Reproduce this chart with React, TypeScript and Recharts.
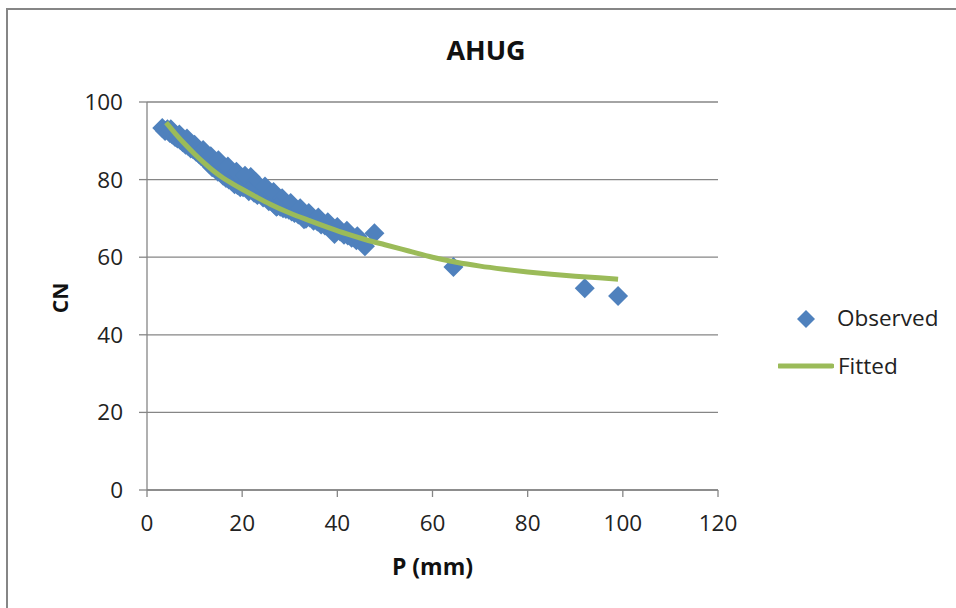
import React from 'react';
import { ScatterChart, Scatter, XAxis, YAxis, CartesianGrid } from 'recharts';

const title = 'AHUG';
const xTicks = [0, 20, 40, 60, 80, 100, 120];
const yTicks = [0, 20, 40, 60, 80, 100];

// observed P (mm) and CN
const obsP = [
  3.2, 3.8, 4.3, 4.8, 5.3, 5.9, 6.4, 7.0, 7.5, 8.1, 8.6, 9.2, 9.7, 10.3, 10.9, 11.4, 12.0, 12.6,
  13.1, 13.7, 14.3, 14.9, 15.4, 16.0, 16.6, 17.2, 17.8, 18.4, 19.0, 19.6, 20.2, 21.0, 21.8, 22.5,
  23.2, 23.8, 24.4, 25.0, 25.6, 26.2, 26.8, 27.4, 28.0, 28.6, 29.2, 29.8, 30.4, 31.0, 31.8, 32.6,
  33.4, 34.2, 35.0, 35.8, 36.6, 37.4, 38.2, 39.0, 39.8, 40.6, 41.4, 42.2, 43.0, 44.0, 45.2, 47.8,
  64.4, 92.0, 99.0,
  5.0, 6.8, 8.4, 10.0, 11.8, 13.4, 15.0, 17.0, 18.8, 20.6, 22.8, 24.8, 26.6, 28.4, 30.2, 32.2,
  34.0, 36.0, 38.0, 40.0, 42.0, 44.2, 21.4, 27.2, 33.0, 39.4, 45.8,
];
const obsCN = [
  93.3, 92.5, 93.0, 92.0, 91.6, 91.0, 90.6, 90.2, 89.6, 89.0, 88.7, 88.0, 87.8, 87.2, 86.6, 86.0, 85.5, 85.0,
  84.0, 83.2, 82.8, 82.0, 84.2, 81.0, 80.4, 80.0, 79.6, 78.8, 78.6, 78.0, 78.0, 80.2, 80.7, 76.6,
  76.0, 76.6, 75.4, 75.6, 74.4, 74.6, 73.6, 73.2, 73.0, 72.6, 72.4, 72.2, 71.8, 71.4, 71.0, 70.8,
  69.9, 70.2, 69.4, 69.2, 68.4, 68.2, 67.8, 67.4, 66.8, 66.6, 65.8, 65.6, 65.0, 64.4, 63.8, 66.2,
  57.5, 52.0, 50.0,
  93.0, 91.6, 90.6, 89.0, 87.6, 86.0, 85.0, 83.4, 82.0, 81.0, 79.4, 78.2, 76.8, 75.2, 74.0, 72.6,
  71.4, 70.2, 69.0, 67.8, 66.8, 65.4, 77.0, 73.0, 69.8, 66.0, 62.8,
];

// fitted curve
const fitP = [4, 6, 8, 10, 12, 14, 16, 18, 20, 23, 26, 30, 34, 38, 42, 46, 50, 55, 60, 65, 70, 75, 80, 85, 90, 95, 99];
const fitCN = [
  94.7, 91.8, 89.1, 86.6, 84.3, 82.2, 80.4, 78.9, 77.5, 75.5, 73.6, 71.4, 69.5, 67.7, 66.0, 64.5, 63.2,
  61.6, 60.0, 58.7, 57.7, 56.9, 56.2, 55.6, 55.1, 54.7, 54.3,
];

const observed = obsP.map((p, i) => ({ p, cn: obsCN[i] }));
const fitted = fitP.map((p, i) => ({ p, cn: fitCN[i] }));

const BLUE = '#4f81bd';
const GREEN = '#9bbb59';
const GRID = '#868686';
const FONT = '"Open Sans", "Liberation Sans", sans-serif';

const Diamond = (props: any) => {
  const { cx, cy } = props;
  const r = 10;
  return <polygon points={`${cx},${cy - r} ${cx + r},${cy} ${cx},${cy + r} ${cx - r},${cy}`} fill={BLUE} />;
};

const LegendBox = () => (
  <div style={{ position: 'absolute', left: 778, top: 296, width: 170, fontFamily: FONT, fontSize: 22.5, color: '#222' }}>
    <div style={{ position: 'relative', height: 48 }}>
      <svg width={20} height={20} style={{ position: 'absolute', left: 18, top: 13 }}>
        <polygon points="10,1 19,10 10,19 1,10" fill={BLUE} />
      </svg>
      <span style={{ position: 'absolute', left: 59, top: 7, lineHeight: '30px' }}>Observed</span>
    </div>
    <div style={{ position: 'relative', height: 48 }}>
      <svg width={56} height={10} style={{ position: 'absolute', left: 0, top: 17 }}>
        <line x1={1} y1={5} x2={54} y2={5} stroke={GREEN} strokeWidth={5} strokeLinecap="round" />
      </svg>
      <span style={{ position: 'absolute', left: 60, top: 7, lineHeight: '30px' }}>Fitted</span>
    </div>
  </div>
);

export default function App() {
  return (
    <div style={{ position: 'absolute', left: 0, top: 0, width: 956, height: 608, background: '#fff', overflow: 'hidden' }}>
      <div
        style={{
          position: 'absolute', left: 6, top: 8, width: 1000, height: 700,
          border: `2px solid ${GRID}`, boxSizing: 'border-box',
        }}
      />
      <div
        style={{
          position: 'absolute', left: 0, width: 972, top: 31, textAlign: 'center',
          fontFamily: FONT, fontWeight: 700, fontSize: 27, color: '#111', lineHeight: '38px',
        }}
      >
        {title}
      </div>
      <div style={{ position: 'absolute', left: 0, top: 0 }}>
        <ScatterChart width={956} height={608} margin={{ top: 102, right: 238, bottom: 58, left: 0 }}>
          <CartesianGrid horizontal vertical={false} stroke={GRID} strokeWidth={1.3} />
          <XAxis
            type="number"
            dataKey="p"
            domain={[0, 120]}
            ticks={xTicks}
            interval={0}
            height={60}
            axisLine={{ stroke: GRID, strokeWidth: 1.3 }}
            tickLine={{ stroke: GRID, strokeWidth: 1.3 }}
            tickSize={7}
            tickMargin={18}
            tick={{ fill: '#222', fontSize: 22.5, fontFamily: FONT }}
            label={{
              content: (p: any) => (
                <text
                  x={p.viewBox.x + p.viewBox.width / 2}
                  y={p.viewBox.y + 76}
                  textAnchor="middle"
                  dominantBaseline="central"
                  fontFamily={FONT}
                  fontWeight={700}
                  fontSize={23}
                  fill="#111"
                >
                  P (mm)
                </text>
              ),
            }}
          />
          <YAxis
            type="number"
            dataKey="cn"
            domain={[0, 100]}
            ticks={yTicks}
            interval={0}
            width={147}
            axisLine={{ stroke: GRID, strokeWidth: 1.3 }}
            tickLine={{ stroke: GRID, strokeWidth: 1.3 }}
            tickSize={8}
            tickMargin={16}
            tick={{ fill: '#222', fontSize: 22.5, fontFamily: FONT }}
            label={{
              content: (p: any) => (
                <text
                  x={60}
                  y={p.viewBox.y + p.viewBox.height / 2 + 2}
                  textAnchor="middle"
                  dominantBaseline="central"
                  transform={`rotate(-90, 60, ${p.viewBox.y + p.viewBox.height / 2 + 2})`}
                  fontFamily={FONT}
                  fontWeight={700}
                  fontSize={21}
                  fill="#111"
                >
                  CN
                </text>
              ),
            }}
          />
          <Scatter name="Observed" data={observed} shape={Diamond} isAnimationActive={false} />
          <Scatter
            name="Fitted"
            data={fitted}
            line={{ stroke: GREEN, strokeWidth: 5 }}
            lineJointType="monotoneX"
            shape={() => <g />}
            isAnimationActive={false}
          />
        </ScatterChart>
      </div>
      <LegendBox />
    </div>
  );
}
